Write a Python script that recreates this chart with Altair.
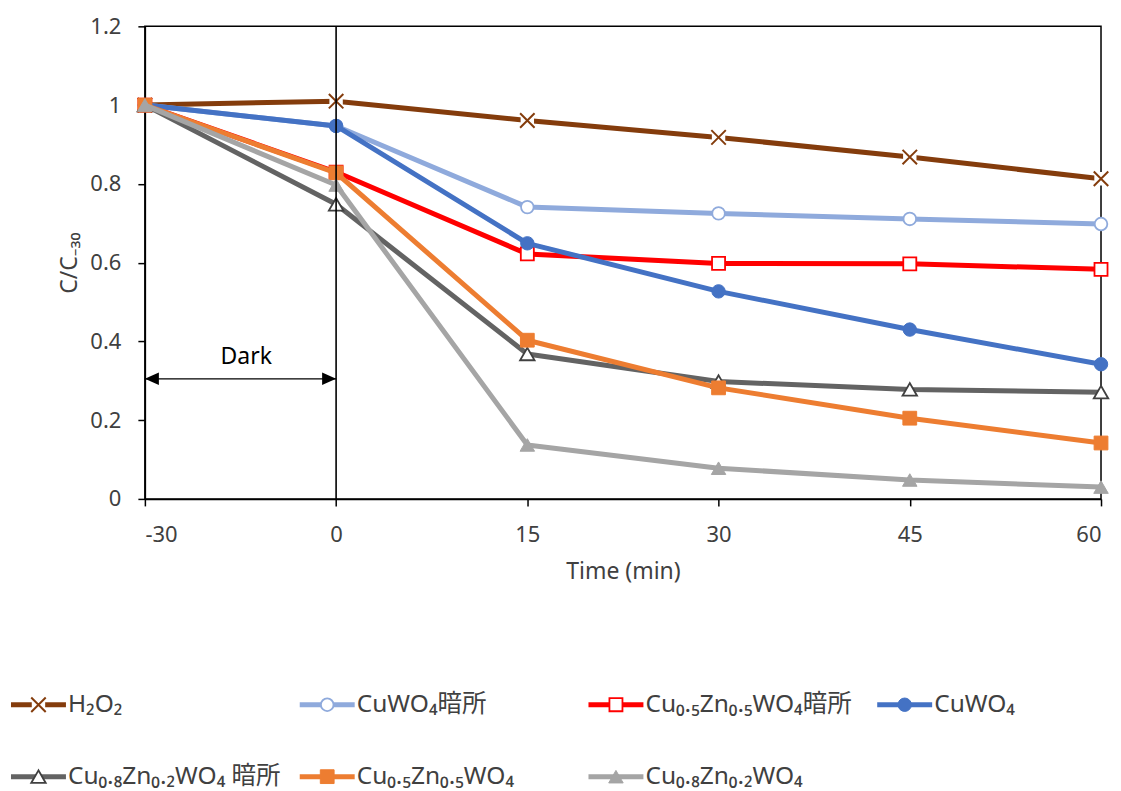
import json
import altair as alt
import pandas as pd

# ---------------- data ----------------
times = ["-30", "0", "15", "30", "45", "60"]
series_names = [
    "H₂O₂",
    "CuWO₄暗所",
    "Cu₀.₅Zn₀.₅WO₄暗所",
    "CuWO₄",
    "Cu₀.₈Zn₀.₂WO₄ 暗所",
    "Cu₀.₅Zn₀.₅WO₄",
    "Cu₀.₈Zn₀.₂WO₄",
]
h2o2 = [1.0, 1.01, 0.961, 0.918, 0.868, 0.813]
cuwo4_dark = [1.0, 0.947, 0.741, 0.725, 0.711, 0.698]
cu55_dark = [1.0, 0.830, 0.622, 0.598, 0.597, 0.583]
cuwo4 = [1.0, 0.947, 0.649, 0.527, 0.430, 0.342]
cu82_dark = [1.0, 0.748, 0.368, 0.298, 0.278, 0.271]
cu55 = [1.0, 0.828, 0.403, 0.282, 0.205, 0.142]
cu82 = [1.0, 0.797, 0.137, 0.078, 0.048, 0.030]
y_ticks = [0, 0.2, 0.4, 0.6, 0.8, 1.0, 1.2]
dark_label = "Dark"
x_title = "Time (min)"
y_title = "C/C₋₃₀"

all_values = [h2o2, cuwo4_dark, cu55_dark, cuwo4, cu82_dark, cu55, cu82]

rows = []
for name, vals in zip(series_names, all_values):
    for i, (t, v) in enumerate(zip(times, vals)):
        rows.append({"series": name, "pos": i, "time": t, "value": v})
df = pd.DataFrame(rows)

# ---------------- styles ----------------
XPATH = "M-1,-1L1,1M-1,1L1,-1"
styles = [
    dict(color="#843C0C", shape=XPATH, fill="transparent", stroke="#843C0C", sw=2, size=210, xmark=True),
    dict(color="#8FAADC", shape="circle", fill="white", stroke="#8FAADC", sw=1.8, size=160),
    dict(color="#FF0000", shape="square", fill="white", stroke="#FF0000", sw=1.8, size=170),
    dict(color="#4472C4", shape="circle", fill="#4472C4", stroke="#4472C4", sw=1, size=180),
    dict(color="#636363", shape="triangle-up", fill="white", stroke="#404040", sw=1.8, size=210),
    dict(color="#ED7D31", shape="square", fill="#ED7D31", stroke="#ED7D31", sw=1, size=190),
    dict(color="#A5A5A5", shape="triangle-up", fill="#A5A5A5", stroke="#A5A5A5", sw=1, size=210),
]

FONT = "Noto Sans, Noto Sans CJK JP"
TXT = "#404040"
label_expr = json.dumps(times) + "[datum.value]"

def X(field="pos"):
    return alt.X(
        f"{field}:Q",
        scale=alt.Scale(domain=[0, len(times) - 1], nice=False, zero=False),
        axis=alt.Axis(
            values=list(range(len(times))), labelExpr=label_expr, title=x_title,
            grid=False, tickSize=7, labelPadding=19, titlePadding=15,
        ),
    )

def Y(field="value"):
    return alt.Y(
        f"{field}:Q",
        scale=alt.Scale(domain=[0, 1.2], nice=False, zero=False),
        axis=alt.Axis(
            values=y_ticks, format="~g", title=y_title, grid=False,
            tickSize=7, labelPadding=17, titlePadding=8,
        ),
    )

base = alt.Chart(df)
layers = []
for name, st in zip(series_names, styles):
    sub = base.transform_filter(alt.datum.series == name)
    layers.append(
        sub.mark_line(color=st["color"], strokeWidth=5, strokeJoin="round").encode(x=X(), y=Y())
    )
    if st.get("xmark"):
        layers.append(
            sub.mark_point(shape="square", filled=True, fill="white", stroke="white",
                           size=130, opacity=1).encode(x=X(), y=Y())
        )
    layers.append(
        sub.mark_point(shape=st["shape"], filled=True, fill=st["fill"], stroke=st["stroke"],
                       strokeWidth=st["sw"], size=st["size"], opacity=1).encode(x=X(), y=Y())
    )

# dark-period annotation
zero_pos = times.index("0")
vline_df = pd.DataFrame({"pos": [zero_pos], "value": [0.0], "value2": [1.2]})
arrow_df = pd.DataFrame({"pos": [0], "pos2": [zero_pos], "value": [0.305]})
heads_df = pd.DataFrame({
    "pos": [0, zero_pos], "value": [0.305, 0.305],
    "head": ["M0,0L1,-0.45L1,0.45Z", "M0,0L-1,-0.45L-1,0.45Z"],
})
text_df = pd.DataFrame({"pos": [0.53], "value": [0.36], "label": [dark_label]})

vline = alt.Chart(vline_df).mark_rule(color="black", strokeWidth=1.6).encode(
    x=X(), y=Y(), y2="value2:Q")
arrow = alt.Chart(arrow_df).mark_rule(color="black", strokeWidth=1.3).encode(
    x=X(), x2="pos2:Q", y=Y())
heads = alt.Chart(heads_df).mark_point(filled=True, color="black", size=784, opacity=1).encode(
    x=X(), y=Y(), shape=alt.Shape("head:N", scale=None))
dark_text = alt.Chart(text_df).mark_text(font=FONT, fontSize=23, color="black").encode(
    x=X(), y=Y(), text="label:N")

main = alt.layer(*layers, vline, arrow, heads, dark_text).properties(
    width=957, height=473,
    view=alt.ViewBackground(stroke="black", strokeWidth=1.5),
)

# ---------------- manual legend ----------------
leg_x0 = [-134, 155, 444, 733, -134, 155, 444]
leg_row = [0, 0, 0, 0, 1, 1, 1]
leg_df = pd.DataFrame({
    "series": series_names,
    "x0": leg_x0,
    "x1": [v + 55 for v in leg_x0],
    "xm": [v + 27.5 for v in leg_x0],
    "xt": [v + 57 for v in leg_x0],
    "y": [12 + r * 72 for r in leg_row],
})
lbase = alt.Chart(leg_df)
llayers = []
for name, st in zip(series_names, styles):
    sub = lbase.transform_filter(alt.datum.series == name)
    llayers.append(sub.mark_rule(color=st["color"], strokeWidth=5).encode(
        x=alt.X("x0:Q", scale=None), x2="x1:Q", y=alt.Y("y:Q", scale=None)))
    if st.get("xmark"):
        llayers.append(sub.mark_point(shape="square", filled=True, fill="white", stroke="white",
                                      size=130, opacity=1).encode(
            x=alt.X("xm:Q", scale=None), y=alt.Y("y:Q", scale=None)))
    llayers.append(sub.mark_point(shape=st["shape"], filled=True, fill=st["fill"], stroke=st["stroke"],
                                  strokeWidth=st["sw"], size=st["size"], opacity=1).encode(
        x=alt.X("xm:Q", scale=None), y=alt.Y("y:Q", scale=None)))
llayers.append(lbase.mark_text(align="left", baseline="middle", font=FONT, fontSize=24.5,
                               color=TXT).encode(
    x=alt.X("xt:Q", scale=None), y=alt.Y("y:Q", scale=None), text="series:N"))

legend = alt.layer(*llayers).properties(
    width=957, height=96,
    view=alt.ViewBackground(stroke=None),
)

chart = alt.vconcat(main, legend, spacing=107).properties(
    padding={"left": 0, "top": 6, "right": 0, "bottom": 3}
).configure_axis(
    labelFont=FONT, labelFontSize=22, labelColor=TXT,
    titleFont=FONT, titleFontSize=23, titleColor=TXT, titleFontWeight="normal",
    domainColor="black", tickColor="black", domainWidth=1.5, tickWidth=1.5,
).configure_view(stroke=None)

chart.save("out.html", embed_options={"renderer": "svg", "actions": False})
